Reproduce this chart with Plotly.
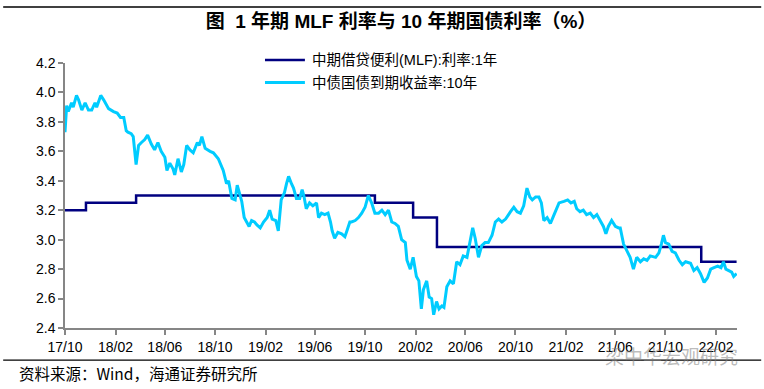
import plotly.graph_objects as go

# ---- data ----
mlf_dates = ["2017-10-01", "2017-11-21", "2018-03-23", "2019-10-25",
             "2020-01-26", "2020-03-24", "2021-12-27", "2022-03-23"]
mlf_values = [3.20, 3.25, 3.30, 3.25, 3.15, 2.95, 2.85, 2.85]

y10_dates = [
    "2017-10-01", "2017-10-05", "2017-10-09", "2017-10-17", "2017-10-21", "2017-10-29",
    "2017-11-03", "2017-11-11", "2017-11-19", "2017-11-27", "2017-12-05", "2017-12-13",
    "2017-12-17", "2017-12-27", "2018-01-03", "2018-01-15", "2018-01-27", "2018-02-05",
    "2018-02-13", "2018-02-21", "2018-02-27", "2018-03-03", "2018-03-11", "2018-03-16",
    "2018-03-23", "2018-03-29", "2018-04-05", "2018-04-13", "2018-04-20", "2018-04-29",
    "2018-05-07", "2018-05-15", "2018-05-23", "2018-06-01", "2018-06-06", "2018-06-13",
    "2018-06-21", "2018-06-25", "2018-07-03", "2018-07-11", "2018-07-17", "2018-07-24",
    "2018-08-01", "2018-08-09", "2018-08-19", "2018-08-24", "2018-08-30", "2018-09-07",
    "2018-09-19", "2018-09-27", "2018-10-09", "2018-10-21", "2018-10-29", "2018-11-03",
    "2018-11-11", "2018-11-19", "2018-11-24", "2018-11-29", "2018-12-05", "2018-12-11",
    "2018-12-17", "2018-12-23", "2018-12-29", "2019-01-05", "2019-01-11", "2019-01-19",
    "2019-01-27", "2019-02-05", "2019-02-11", "2019-02-17", "2019-02-26", "2019-03-04",
    "2019-03-11", "2019-03-19", "2019-03-24", "2019-03-29", "2019-04-05", "2019-04-10",
    "2019-04-17", "2019-04-25", "2019-05-01", "2019-05-05", "2019-05-11", "2019-05-19",
    "2019-05-27", "2019-06-05", "2019-06-10", "2019-06-17", "2019-06-25", "2019-07-03",
    "2019-07-09", "2019-07-13", "2019-07-19", "2019-07-27", "2019-08-05", "2019-08-13",
    "2019-08-18", "2019-08-25", "2019-08-29", "2019-09-07", "2019-09-15", "2019-09-23",
    "2019-10-01", "2019-10-09", "2019-10-17", "2019-10-25", "2019-11-03", "2019-11-11",
    "2019-11-19", "2019-11-27", "2019-12-05", "2019-12-13", "2019-12-21", "2019-12-29",
    "2020-01-07", "2020-01-11", "2020-01-19", "2020-01-26", "2020-02-03", "2020-02-09",
    "2020-02-15", "2020-02-20", "2020-02-28", "2020-03-05", "2020-03-11", "2020-03-16",
    "2020-03-23", "2020-03-29", "2020-04-05", "2020-04-10", "2020-04-17", "2020-04-25",
    "2020-05-03", "2020-05-11", "2020-05-19", "2020-05-27", "2020-06-05", "2020-06-11",
    "2020-06-19", "2020-06-25", "2020-07-03", "2020-07-11", "2020-07-19", "2020-07-27",
    "2020-08-05", "2020-08-13", "2020-08-21", "2020-08-29", "2020-09-07", "2020-09-19",
    "2020-09-27", "2020-10-05", "2020-10-13", "2020-10-21", "2020-10-29", "2020-11-05",
    "2020-11-11", "2020-11-19", "2020-11-27", "2020-12-03", "2020-12-09", "2020-12-17",
    "2020-12-25", "2021-01-03", "2021-01-15", "2021-01-27", "2021-02-05", "2021-02-13",
    "2021-02-21", "2021-02-27", "2021-03-07", "2021-03-15", "2021-03-23", "2021-04-01",
    "2021-04-09", "2021-04-17", "2021-04-25", "2021-05-03", "2021-05-09", "2021-05-15",
    "2021-05-23", "2021-06-01", "2021-06-09", "2021-06-13", "2021-06-21", "2021-06-29",
    "2021-07-07", "2021-07-15", "2021-07-23", "2021-08-01", "2021-08-09", "2021-08-17",
    "2021-08-25", "2021-09-07", "2021-09-15", "2021-09-21", "2021-09-26", "2021-10-01",
    "2021-10-09", "2021-10-17", "2021-10-25", "2021-11-03", "2021-11-11", "2021-11-19",
    "2021-12-01", "2021-12-09", "2021-12-17", "2021-12-25", "2022-01-03", "2022-01-11",
    "2022-01-19", "2022-01-27", "2022-02-05", "2022-02-13", "2022-02-19", "2022-02-25",
    "2022-03-03", "2022-03-11", "2022-03-16", "2022-03-23",
]
y10_values = [
    3.73, 3.91, 3.87, 3.93, 3.90, 3.98,
    3.95, 3.88, 3.93, 3.88, 3.88, 3.93,
    3.90, 3.98, 3.95, 3.89, 3.87, 3.86,
    3.83, 3.83, 3.74, 3.73, 3.72, 3.70,
    3.51, 3.64, 3.66, 3.68, 3.71, 3.65,
    3.61, 3.66, 3.60, 3.56, 3.47, 3.52,
    3.48, 3.44, 3.55, 3.46, 3.51, 3.64,
    3.61, 3.59, 3.66, 3.64, 3.70, 3.62,
    3.60, 3.59, 3.55, 3.47, 3.38, 3.40,
    3.28, 3.27, 3.37, 3.32, 3.26, 3.15,
    3.12, 3.09, 3.13, 3.12, 3.10, 3.08,
    3.12, 3.15, 3.20, 3.14, 3.13, 3.06,
    3.27, 3.32, 3.38, 3.43, 3.38, 3.35,
    3.28, 3.28, 3.34, 3.30, 3.21, 3.25,
    3.23, 3.25, 3.15, 3.18, 3.17, 3.18,
    3.12, 3.06, 3.01, 3.05, 3.04, 3.02,
    3.06, 3.12, 3.12, 3.13, 3.15, 3.18,
    3.22, 3.30, 3.25, 3.18, 3.18, 3.20,
    3.17, 3.20, 3.12, 3.11, 3.09, 3.00,
    2.98, 2.86, 2.80, 2.88, 2.75, 2.72,
    2.53, 2.66, 2.72, 2.61, 2.60, 2.49,
    2.58, 2.53, 2.55, 2.54, 2.68, 2.72,
    2.70, 2.85, 2.83, 2.89, 2.88, 2.97,
    3.08, 3.01, 2.88, 2.96, 2.98, 2.98,
    3.03, 3.12, 3.14, 3.12, 3.14, 3.19,
    3.22, 3.19, 3.18, 3.23, 3.35, 3.29,
    3.27, 3.29, 3.29, 3.25, 3.13, 3.15,
    3.11, 3.17, 3.25, 3.26, 3.27, 3.25,
    3.26, 3.21, 3.19, 3.20, 3.17, 3.18,
    3.15, 3.17, 3.13, 3.09, 3.04, 3.09,
    3.13, 3.09, 3.08, 3.08, 2.97, 2.93,
    2.88, 2.80, 2.88, 2.85, 2.87, 2.86,
    2.89, 2.88, 2.91, 2.97, 3.03, 2.98,
    2.97, 2.92, 2.91, 2.86, 2.83, 2.85,
    2.84, 2.79, 2.81, 2.77, 2.71, 2.74,
    2.80, 2.81, 2.82, 2.81, 2.85, 2.80,
    2.79, 2.78, 2.75, 2.77,
]

y_ticks = [2.4, 2.6, 2.8, 3.0, 3.2, 3.4, 3.6, 3.8, 4.0, 4.2]

name_mlf = "中期借贷便利(MLF):利率:1年"
name_y10 = "中债国债到期收益率:10年"
title_text = "<b>图  1 年期 MLF 利率与 10 年期国债利率（%）</b>"
source_text = "资料来源：Wind，海通证券研究所"
watermark_text = "梁中华宏观研究"

color_mlf = "#000080"
color_y10 = "#00CCFF"

cjk = "Liberation Sans, Noto Sans CJK SC, sans-serif"

fig = go.Figure()
fig.add_trace(go.Scatter(x=mlf_dates, y=mlf_values, mode="lines", name=name_mlf,
                         line=dict(color=color_mlf, width=2.5, shape="hv"),
                         showlegend=False))
fig.add_trace(go.Scatter(x=y10_dates, y=y10_values, mode="lines", name=name_y10,
                         line=dict(color=color_y10, width=3),
                         showlegend=False))

fig.update_layout(
    width=764, height=389,
    margin=dict(l=65, r=27, t=63, b=61),
    paper_bgcolor="white", plot_bgcolor="white",
    font=dict(family=cjk, size=14, color="black"),
    title=dict(text=title_text, x=0.5, xref="paper", xanchor="center",
               y=1 - 21 / 389, yref="container", yanchor="middle",
               font=dict(family=cjk, size=19, color="black")),
    xaxis=dict(type="date", range=["2017-10-01", "2022-03-24"],
               tick0="2017-10-01", dtick="M4", tickformat="%y/%m",
               showgrid=False, zeroline=False, showline=True,
               linecolor="#868686", linewidth=1.5, ticks="outside",
               tickcolor="#868686", ticklen=5, tickwidth=1.5,
               tickfont=dict(family=cjk, size=14, color="black")),
    yaxis=dict(range=[2.4, 4.2], tickvals=y_ticks, tickformat=".1f",
               showgrid=False, zeroline=False, showline=True,
               linecolor="#868686", linewidth=1.5, ticks="outside",
               tickcolor="#868686", ticklen=5, tickwidth=1.5,
               tickfont=dict(family=cjk, size=14, color="black")),
)

# manual legend (paper coordinates)
legend_items = [(name_mlf, color_mlf, 2.5, 1.011), (name_y10, color_y10, 3, 0.926)]
for label, col, w, ly in legend_items:
    fig.add_shape(type="line", xref="paper", yref="paper",
                  x0=0.2976, x1=0.357, y0=ly, y1=ly,
                  line=dict(color=col, width=w))
    fig.add_annotation(text=label, xref="paper", yref="paper",
                       x=0.364, y=ly, xanchor="left", yanchor="middle",
                       showarrow=False,
                       font=dict(family=cjk, size=14.5, color="black"))

# decorative rules
fig.add_shape(type="line", xref="paper", yref="paper",
              x0=-0.092, x1=1.036, y0=1.211, y1=1.211,
              line=dict(color="black", width=1.5))
fig.add_shape(type="line", xref="paper", yref="paper",
              x0=-0.092, x1=1.036, y0=-0.121, y1=-0.121,
              line=dict(color="black", width=1.2))

fig.add_annotation(text=source_text, xref="paper", yref="paper",
                   x=-0.072, y=-0.17, xanchor="left", yanchor="middle",
                   showarrow=False,
                   font=dict(family="Noto Sans CJK SC", size=15.5, color="black"))
fig.add_annotation(text=watermark_text, xref="paper", yref="paper",
                   x=1.004, y=-0.102, xanchor="right", yanchor="middle",
                   showarrow=False,
                   font=dict(family="Noto Sans CJK SC", size=19,
                             color="rgba(130,130,130,0.55)"))

fig.write_html("out.html", config={"displayModeBar": False},
               post_script="document.body.style.margin='0';")
